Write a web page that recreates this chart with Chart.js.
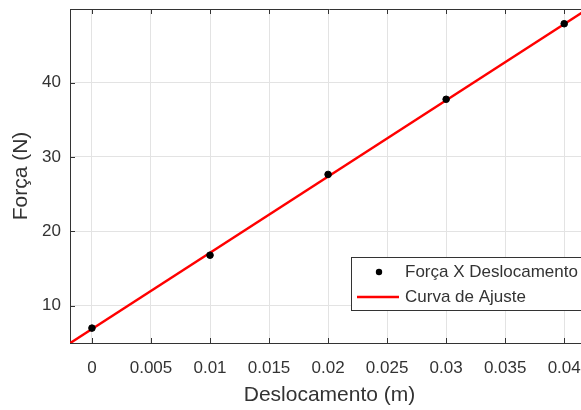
<!DOCTYPE html>
<html>
<head>
<meta charset="utf-8">
<script src="https://cdn.jsdelivr.net/npm/chart.js@4/dist/chart.umd.min.js"></script>
<style>
  html, body { margin: 0; padding: 0; background: #fff; overflow: hidden; }
  #wrap { width: 581px; height: 410px; overflow: hidden; }
</style>
</head>
<body>
<div id="wrap"><canvas id="chart" width="590" height="410"></canvas></div>
<script>
// measured points
const deslocamento = [0, 0.01, 0.02, 0.03, 0.04];
const forca = [7.0, 16.8, 27.65, 37.75, 47.9];
// fitted line, read at the two ends of the x range
const ajusteX = [-0.0019, 0.0422];
const ajusteY = [4.94, 50.1];
// ticks
const xTicks = [0, 0.005, 0.01, 0.015, 0.02, 0.025, 0.03, 0.035, 0.04];
const yTicks = [10, 20, 30, 40];

const INK = '#333333';
const FONT = 'Liberation Sans, Arial, sans-serif';

// box top edge, inward tick marks and the legend inside the axes
const matlabAxes = {
  id: 'matlabAxes',
  afterDraw(chart) {
    const { ctx, chartArea: a, scales: { x, y } } = chart;
    ctx.save();
    ctx.strokeStyle = INK;
    ctx.lineWidth = 1;
    ctx.beginPath();
    ctx.moveTo(a.left, a.top + 0.5); ctx.lineTo(a.right, a.top + 0.5);
    xTicks.forEach(v => {
      const px = Math.round(x.getPixelForValue(v)) + 0.5;
      ctx.moveTo(px, a.bottom); ctx.lineTo(px, a.bottom - 5);
      ctx.moveTo(px, a.top); ctx.lineTo(px, a.top + 5);
    });
    yTicks.forEach(v => {
      const py = Math.round(y.getPixelForValue(v)) + 0.5;
      ctx.moveTo(a.left, py); ctx.lineTo(a.left + 5, py);
    });
    ctx.stroke();

    // legend
    const lx = 351.5, ly = 257.5, lw = 250, lh = 53;
    ctx.fillStyle = '#fff';
    ctx.fillRect(lx, ly, lw, lh);
    ctx.strokeRect(lx, ly, lw, lh);
    ctx.fillStyle = '#000';
    ctx.beginPath();
    ctx.arc(379, 272, 3.2, 0, Math.PI * 2);
    ctx.fill();
    ctx.strokeStyle = '#ff0000';
    ctx.lineWidth = 2.5;
    ctx.beginPath();
    ctx.moveTo(357, 297); ctx.lineTo(399, 297);
    ctx.stroke();
    ctx.fillStyle = INK;
    ctx.font = '17px ' + FONT;
    ctx.textBaseline = 'middle';
    ctx.fillText('Força X Deslocamento', 405, 272);
    ctx.fillText('Curva de Ajuste', 405, 297);
    ctx.restore();
  }
};

new Chart(document.getElementById('chart'), {
  type: 'scatter',
  data: {
    datasets: [
      {
        label: 'Força X Deslocamento',
        data: deslocamento.map((v, i) => ({ x: v, y: forca[i] })),
        backgroundColor: '#000',
        borderColor: '#000',
        pointRadius: 3.3,
        order: 1
      },
      {
        label: 'Curva de Ajuste',
        data: ajusteX.map((v, i) => ({ x: v, y: ajusteY[i] })),
        showLine: true,
        borderColor: '#ff0000',
        borderWidth: 2.5,
        pointRadius: 0,
        order: 2
      }
    ]
  },
  options: {
    responsive: false,
    devicePixelRatio: 1,
    animation: false,
    layout: { autoPadding: false, padding: { top: 9, right: 1, left: 0, bottom: 0 } },
    plugins: { legend: { display: false }, tooltip: { enabled: false } },
    scales: {
      x: {
        type: 'linear',
        min: -0.00186,
        max: 0.0421,
        afterFit: s => { s.height = 67; s.paddingLeft = 0; s.paddingRight = 0; },
        afterBuildTicks: s => { s.ticks = xTicks.map(v => ({ value: v })); },
        grid: { color: '#e3e3e3', drawTicks: false },
        border: { color: INK, width: 1 },
        ticks: { color: INK, font: { family: FONT, size: 17 }, padding: 15, callback: v => String(v) },
        title: { display: true, text: 'Deslocamento (m)', color: INK, font: { family: FONT, size: 21 }, padding: { top: 0, bottom: 2 } }
      },
      y: {
        min: 5,
        max: 49.88,
        afterFit: s => { s.width = 70; s.paddingTop = 0; s.paddingBottom = 0; },
        afterBuildTicks: s => { s.ticks = yTicks.map(v => ({ value: v })); },
        grid: { color: '#e3e3e3', drawTicks: false },
        border: { color: INK, width: 1 },
        ticks: { color: INK, font: { family: FONT, size: 17 }, padding: 9 },
        title: { display: true, text: 'Força (N)', color: INK, font: { family: FONT, size: 21 }, padding: { top: 9, bottom: 0 } }
      }
    }
  },
  plugins: [matlabAxes]
});
</script>
</body>
</html>
